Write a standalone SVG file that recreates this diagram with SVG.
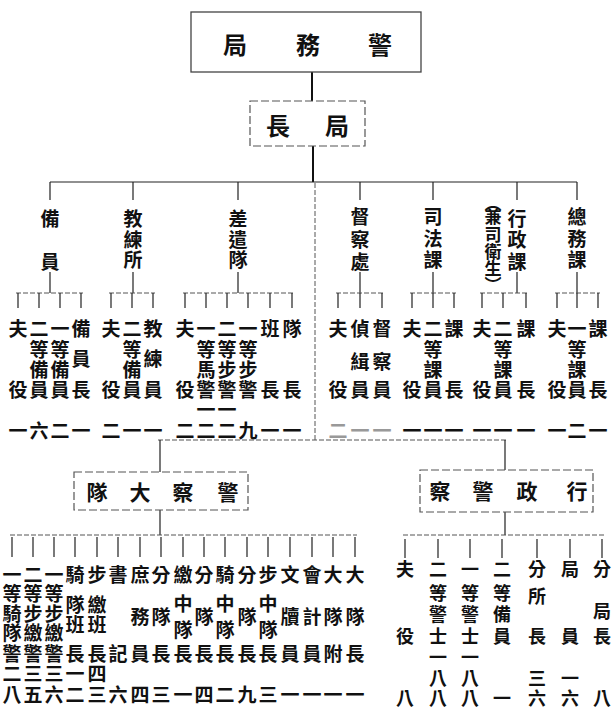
<svg xmlns="http://www.w3.org/2000/svg" width="612" height="707" viewBox="0 0 612 707">
<style>
text{font-family:"Noto Sans CJK TC","Noto Sans CJK SC",sans-serif;fill:#111;text-anchor:middle;dominant-baseline:central}
.t{font-size:19px;font-weight:700}
.lb{font-size:19px;font-weight:700}
.sm{font-size:17px;font-weight:700}
.h{font-size:24px;font-weight:700}
.h2{font-size:21px;font-weight:700}
.r{font-size:18px;font-weight:700}
.f{fill:#999}
.ln{stroke:#222;stroke-width:1.2;fill:none}
.th{stroke:#111;stroke-width:2;fill:none}
.ds{stroke:#555;stroke-width:1;fill:none;stroke-dasharray:5 2}
.bx{stroke:#444;stroke-width:1.3;fill:none}
.bxd{stroke:#555;stroke-width:1.2;fill:none;stroke-dasharray:8 3}
</style>
<rect width="612" height="707" fill="#fff"/>
<g id="connectors">
<path class="th" d="M312 72V101M313 146V182"/>
<path class="ln" d="M50 182H577"/>
<path class="ds" d="M315 183V440"/>
<path class="ln" d="M50 182V200M133 182V200M238 182V200M360 182V200M433 182V200M517 182V200M577 182V200"/>
<path class="ln" d="M50 272V293M133 272V293M238 272V293M360 272V293M433 272V293M517 272V293M577 272V293"/>
<path class="ds" d="M16 293H83M109 293H155M183 293H294M336 293H384M410 293H456M480 293H528M555 293H600"/>
<path class="ln" d="M18 293V308M39 293V308M60 293V308M81 293V308M111 293V308M132 293V308M153 293V308M185 293V308M206 293V308M227 293V308M248 293V308M270 293V308M292 293V308M338 293V308M360 293V308M382 293V308M412 293V308M433 293V308M454 293V308M482 293V308M503 293V308M526 293V308M557 293V308M577 293V308M598 293V308"/>
<path class="ds" d="M158 440H507"/>
<path class="ln" d="M160 440V472M505 440V470M160 510V535M505 512V535"/>
<path class="ds" d="M10 535H357M403 535H604"/>
<path class="ln" d="M12 537V557M33 537V557M54 537V557M75 537V557M97 537V557M118 537V557M140 537V557M161 537V557M183 537V557M204 537V557M225 537V557M247 537V557M268 537V557M290 537V557M312 537V557M333 537V557M355 537V557"/>
<path class="ln" d="M405 539V558M438 539V558M470 539V558M502 539V558M537 539V558M570 539V558M602 539V558"/>
</g>
<g id="n-jingwuju">
<rect class="bx" x="191" y="12" width="230" height="60"/>
<text class="h" x="235 308 380" y="43 43 43">局務警</text>
</g>
<g id="n-juzhang">
<rect class="bxd" x="250" y="101" width="115" height="45"/>
<text class="h" x="278 337" y="124 124">長局</text>
</g>
<g id="n-beiyuan">
<text class="lb" x="50 50" y="217 260">備員</text>
<text class="t" x="18 18" y="327 388">夫役</text>
<text class="t" x="39 39 39 39" y="327 348 368 388">二等備員</text>
<text class="t" x="60 60 60 60" y="327 348 368 388">一等備員</text>
<text class="t" x="81 81 81" y="327 357 388">備員長</text>
<text class="t" x="18 39 60 81" y="429 429 429 429">一六二一</text>
</g>
<g id="n-jiaolian">
<text class="lb" x="133 133 133" y="217 238 258">教練所</text>
<text class="t" x="111 111" y="327 388">夫役</text>
<text class="t" x="132 132 132 132" y="327 348 368 388">二等備員</text>
<text class="t" x="153 153 153" y="327 357 388">教練員</text>
<text class="t" x="111 132 153" y="429 429 429">二一一</text>
</g>
<g id="n-chaiqian">
<text class="lb" x="238 238 238" y="217 238 258">差遣隊</text>
<text class="t" x="185 185" y="327 388">夫役</text>
<text class="t" x="206 206 206 206" y="327 348 368 388">一等馬警</text>
<text class="t" x="227 227 227 227" y="327 348 368 388">二等步警</text>
<text class="t" x="248 248 248 248" y="327 348 368 388">一等步警</text>
<text class="t" x="270 270" y="327 388">班長</text>
<text class="t" x="292 292" y="327 388">隊長</text>
<text class="t" x="206 227" y="408 408">一一</text>
<text class="t" x="185 206 227 248 270 292" y="429 429 429 429 429 429">二二二九一一</text>
</g>
<g id="n-ducha">
<text class="lb" x="360 360 360" y="215 238 260">督察處</text>
<text class="t" x="338 338" y="327 388">夫役</text>
<text class="t" x="360 360 360" y="327 360 388">偵緝員</text>
<text class="t" x="382 382 382" y="327 360 388">督察員</text>
<text class="t f" x="338 360 382" y="429 429 429">二一一</text>
</g>
<g id="n-sifa">
<text class="lb" x="433 433 433" y="215 237 258">司法課</text>
<text class="t" x="412 412" y="327 388">夫役</text>
<text class="t" x="433 433 433 433" y="327 348 368 388">二等課員</text>
<text class="t" x="454 454" y="327 388">課長</text>
<text class="t" x="412 433 454" y="429 429 429">一一一</text>
</g>
<g id="n-xingzheng">
<text class="sm" x="493 493 493 493 493 493" y="202 215 233 250 267 283">︵兼司衛生︶</text>
<text class="lb" x="517 517 517" y="217 238 260">行政課</text>
<text class="t" x="482 482" y="327 388">夫役</text>
<text class="t" x="503 503 503 503" y="327 348 368 388">二等課員</text>
<text class="t" x="526 526" y="327 388">課長</text>
<text class="t" x="482 503 526" y="429 429 429">一一一</text>
</g>
<g id="n-zongwu">
<text class="lb" x="577 577 577" y="215 237 258">總務課</text>
<text class="t" x="557 557" y="327 388">夫役</text>
<text class="t" x="577 577 577 577" y="327 348 368 388">一等課員</text>
<text class="t" x="598 598" y="327 388">課長</text>
<text class="t" x="557 577 598" y="429 429 429">一二一</text>
</g>
<g id="n-jingchadadui">
<rect class="bxd" x="74" y="472" width="174" height="38"/>
<text class="h2" x="97 140 183 228" y="491 491 491 491">隊大察警</text>
<text class="t" x="12 12 12 12 12 12 12" y="573 592 612 631 652 672 693">一等騎隊警二八</text>
<text class="t" x="33 33 33 33 33 33 33" y="573 592 612 631 652 672 693">二等步繳警三五</text>
<text class="t" x="54 54 54 54 54 54 54" y="573 592 612 631 652 672 693">一等步繳警三六</text>
<text class="t" x="75 75 75 75 75 75" y="573 603 623 652 672 693">騎隊班長一二</text>
<text class="t" x="97 97 97 97 97 97" y="573 603 623 652 672 693">步繳班長四三</text>
<text class="t" x="118 118 118" y="573 652 693">書記六</text>
<text class="t" x="140 140 140 140" y="573 615 652 693">庶務員四</text>
<text class="t" x="161 161 161 161" y="573 615 652 693">分隊長三</text>
<text class="t" x="183 183 183 183 183" y="573 602 628 652 693">繳中隊長一</text>
<text class="t" x="204 204 204 204" y="573 615 652 693">分隊長四</text>
<text class="t" x="225 225 225 225 225" y="573 602 628 652 693">騎中隊長二</text>
<text class="t" x="247 247 247 247" y="573 615 652 693">分隊長九</text>
<text class="t" x="268 268 268 268 268" y="573 602 628 652 693">步中隊長三</text>
<text class="t" x="290 290 290 290" y="573 615 652 693">文牘員一</text>
<text class="t" x="312 312 312 312" y="573 615 652 693">會計員一</text>
<text class="t" x="333 333 333 333" y="573 615 652 693">大隊附一</text>
<text class="t" x="355 355 355 355" y="573 615 652 693">大隊長一</text>
</g>
<g id="n-xingzhengjingcha">
<rect class="bxd" x="420" y="470" width="173" height="42"/>
<text class="h2" x="440 483 527 577" y="490 490 490 490">察警政行</text>
<text class="r" x="405 405 405" y="568 635 697">夫役八</text>
<text class="r" x="438 438 438 438 438 438 438" y="568 592 613 635 656 677 697">二等警士一八八</text>
<text class="r" x="470 470 470 470 470 470 470" y="568 592 613 635 656 677 697">一等警士一八八</text>
<text class="r" x="502 502 502 502 502" y="568 592 613 635 697">二等備員一</text>
<text class="r" x="537 537 537 537 537" y="568 595 635 677 697">分所長三六</text>
<text class="r" x="570 570 570 570" y="568 635 677 697">局員一六</text>
<text class="r" x="602 602 602 602" y="568 610 635 697">分局長八</text>
</g>
</svg>
